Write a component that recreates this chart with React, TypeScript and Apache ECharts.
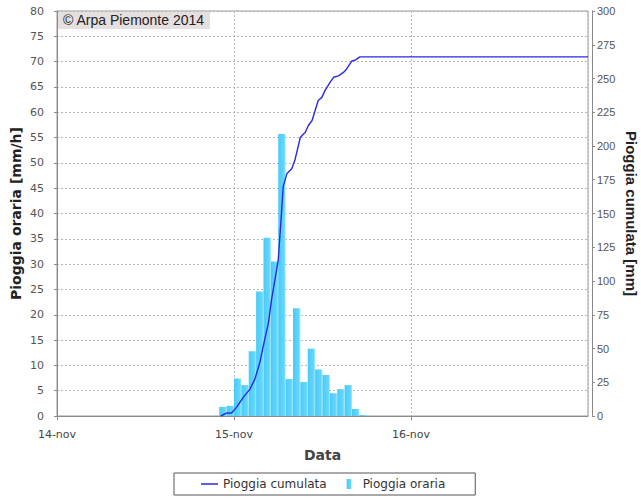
import React, { useEffect, useRef } from "react";
import * as echarts from "echarts";

// Hourly rainfall (bar start time, mm/h)
const barTimes = [
  "2014-11-14 22:00", "2014-11-14 23:00",
  "2014-11-15 00:00", "2014-11-15 01:00", "2014-11-15 02:00", "2014-11-15 03:00",
  "2014-11-15 04:00", "2014-11-15 05:00", "2014-11-15 06:00", "2014-11-15 07:00",
  "2014-11-15 08:00", "2014-11-15 09:00", "2014-11-15 10:00", "2014-11-15 11:00",
  "2014-11-15 12:00", "2014-11-15 13:00", "2014-11-15 14:00", "2014-11-15 15:00",
  "2014-11-15 16:00", "2014-11-15 17:00",
];
const barValues = [
  1.8, 2.0, 7.4, 6.1, 12.8, 24.6, 35.2, 30.5, 55.7, 7.3,
  21.3, 6.7, 13.3, 9.2, 8.1, 4.5, 5.3, 6.1, 1.4, 0.2,
];

// Cumulative rainfall (mm)
const cumTimes = [
  "2014-11-14 22:12", "2014-11-14 23:00", "2014-11-14 23:40", "2014-11-15 00:20",
  "2014-11-15 01:15", "2014-11-15 02:10", "2014-11-15 02:50", "2014-11-15 03:30",
  "2014-11-15 04:10", "2014-11-15 04:40", "2014-11-15 05:05", "2014-11-15 05:35",
  "2014-11-15 06:00", "2014-11-15 06:28", "2014-11-15 06:40", "2014-11-15 07:10",
  "2014-11-15 07:50", "2014-11-15 08:15", "2014-11-15 09:00", "2014-11-15 09:40",
  "2014-11-15 10:05", "2014-11-15 10:35", "2014-11-15 11:00", "2014-11-15 11:25",
  "2014-11-15 11:55", "2014-11-15 12:20", "2014-11-15 13:00", "2014-11-15 13:30",
  "2014-11-15 14:10", "2014-11-15 14:50", "2014-11-15 15:15", "2014-11-15 16:00",
  "2014-11-15 16:25", "2014-11-15 17:05", "2014-11-17 00:00",
];
const cumValues = [
  0, 2.2, 2.2, 6.4, 13.8, 19.9, 27.3, 39.6,
  56.7, 69, 86, 102, 115.7, 152.5, 169.7, 179.5,
  183.2, 189.4, 206.5, 210.2, 215.2, 218.9, 226.3, 233.7,
  236, 241, 247, 250.9, 252, 254.5, 256.9, 263,
  263.6, 266, 266,
];

const xTickLabels = ["14-nov", "15-nov", "16-nov"];

// hours since 2014-11-14 00:00
const toHours = (s: string) => {
  const [d, hm] = s.split(" ");
  const day = parseInt(d.split("-")[2], 10);
  const [h, m] = hm.split(":").map(Number);
  return (day - 14) * 24 + h + m / 60;
};

export default function App() {
  const ref = useRef<HTMLDivElement>(null);
  useEffect(() => {
    if (!ref.current) return;
    document.documentElement.style.overflow = "hidden";
    document.body.style.overflow = "hidden";
    const chart = echarts.init(ref.current, undefined, { renderer: "svg", width: 641, height: 499 });
    const barData = barTimes.map((t, i) => [toHours(t) + 0.5, barValues[i]]);
    const lineData = cumTimes.map((t, i) => [toHours(t), cumValues[i]]);
    const axisColor = "#8a8a8a";
    chart.setOption({
      animation: false,
      backgroundColor: "#ffffff",
      grid: {
        left: 57,
        right: 53,
        top: 11,
        bottom: 83,
        containLabel: false,
        outerBoundsMode: "none",
        show: true,
        borderColor: "#9a9a9a",
        borderWidth: 1,
        backgroundColor: "transparent",
      },
      legend: {
        top: 473,
        left: 174,
        padding: [5, 30, 5, 27],
        itemGap: 20,
        itemWidth: 17,
        itemHeight: 10,
        borderColor: "#555",
        borderWidth: 1,
        textStyle: { fontFamily: "DejaVu Sans", fontSize: 12, color: "#333" },
        data: [
          { name: "Pioggia cumulata", icon: "path://M0,0h17v1.5h-17z" },
          { name: "Pioggia oraria", icon: "path://M0,0h5v10h-5z" },
        ],
      },
      xAxis: {
        type: "value",
        min: 0,
        max: 72,
        interval: 24,
        offset: 5,
        name: "Data",
        nameLocation: "middle",
        nameGap: 27,
        nameMoveOverlap: false,
        nameTextStyle: { fontFamily: "DejaVu Sans", fontWeight: "bold", fontSize: 14, color: "#444" },
        axisLine: { show: true, lineStyle: { color: axisColor } },
        axisTick: { show: true, length: 4, lineStyle: { color: axisColor } },
        axisLabel: {
          fontFamily: "DejaVu Sans",
          fontSize: 11,
          color: "#444",
          margin: 8,
          showMaxLabel: false,
          formatter: (v: number) => (v % 24 === 0 && v < 72 ? xTickLabels[v / 24] : ""),
        },
        splitLine: { show: true, lineStyle: { color: "#b8b8b8", type: [2, 2] } },
      },
      yAxis: [
        {
          type: "value",
          min: 0,
          max: 80,
          interval: 5,
          offset: 4,
          position: "left",
          name: "Pioggia oraria [mm/h]",
          nameLocation: "middle",
          nameGap: 30,
          nameMoveOverlap: false,
          nameTextStyle: { fontFamily: "DejaVu Sans", fontWeight: "bold", fontSize: 14, color: "#222" },
          axisLine: { show: true, lineStyle: { color: axisColor } },
          axisTick: { show: true, length: 3, lineStyle: { color: axisColor } },
          axisLabel: { fontFamily: "DejaVu Sans", fontSize: 11, color: "#555", margin: 9 },
          splitLine: { show: true, lineStyle: { color: "#b8b8b8", type: [2, 2] } },
        },
        {
          type: "value",
          min: 0,
          max: 300,
          interval: 25,
          offset: 4,
          position: "right",
          name: "Pioggia cumulata [mm]",
          nameLocation: "middle",
          nameRotate: -90,
          nameGap: 32,
          nameMoveOverlap: false,
          nameTextStyle: { fontFamily: "Liberation Sans", fontWeight: "bold", fontSize: 15, color: "#222" },
          axisLine: { show: true, lineStyle: { color: axisColor } },
          axisTick: { show: true, length: 3, lineStyle: { color: axisColor } },
          axisLabel: { fontFamily: "Liberation Sans", fontSize: 11, color: "#555", margin: 5 },
          splitLine: { show: false },
        },
      ],
      series: [
        {
          name: "Pioggia oraria",
          type: "bar",
          yAxisIndex: 0,
          barWidth: 7.4,
          itemStyle: {
            color: new echarts.graphic.LinearGradient(0, 0, 1, 0, [
              { offset: 0, color: "#48cbf8" },
              { offset: 0.8, color: "#66d6fc" },
              { offset: 1, color: "#aaedff" },
            ]),
          },
          data: barData,
          z: 2,
        },
        {
          name: "Pioggia cumulata",
          type: "line",
          yAxisIndex: 1,
          symbol: "none",
          lineStyle: { color: "#2a2ae6", width: 1.4 },
          itemStyle: { color: "#2a2ae6" },
          data: lineData,
          z: 3,
        },
      ],
      graphic: [
        {
          type: "rect",
          left: 58,
          top: 12,
          shape: { width: 152, height: 17 },
          style: { fill: "#e6dfdf" },
          z: 10,
        },
        {
          type: "text",
          left: 63,
          top: 13,
          style: {
            text: "© Arpa Piemonte 2014",
            fontFamily: "Liberation Sans",
            fontSize: 14,
            fill: "#222",
          },
          z: 11,
        },
      ],
    });
    return () => chart.dispose();
  }, []);
  return (
    <div
      ref={ref}
      style={{ position: "fixed", left: 0, top: 0, width: 641, height: 499 }}
    />
  );
}
